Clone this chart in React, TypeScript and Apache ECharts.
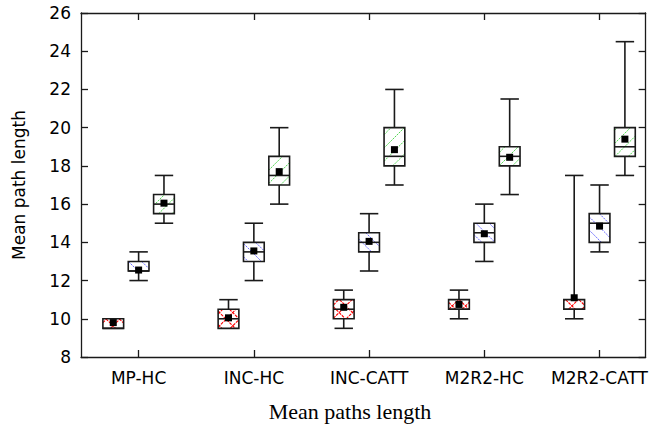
import React, { useEffect, useRef } from "react";
import * as echarts from "echarts";

// Categories (x groups)
const categories = ["MP-HC", "INC-HC", "INC-CATT", "M2R2-HC", "M2R2-CATT"];

// Box statistics per group: [min, q1, median, q3, max]
const redStats = [
  [9.5, 9.5, 9.5, 10, 10],
  [9.5, 9.5, 10, 10.5, 11],
  [9.5, 10, 10.5, 11, 11.5],
  [10, 10.5, 10.5, 11, 11.5],
  [10, 10.5, 10.5, 11, 17.5],
];
const redMeans = [9.8, 10.05, 10.6, 10.75, 11.1];

const blueStats = [
  [12, 12.5, 12.5, 13, 13.5],
  [12, 13, 13.5, 14, 15],
  [12.5, 13.5, 14, 14.5, 15.5],
  [13, 14, 14.5, 15, 16],
  [13.5, 14, 15, 15.5, 17],
];
const blueMeans = [12.55, 13.55, 14.05, 14.45, 14.85];

const greenStats = [
  [15, 15.5, 16, 16.5, 17.5],
  [16, 17, 17.5, 18.5, 20],
  [17, 18, 18.5, 20, 22],
  [16.5, 18, 18.5, 19, 21.5],
  [17.5, 18.5, 19, 20, 24.5],
];
const greenMeans = [16.05, 17.7, 18.85, 18.45, 19.4];

const yMin = 8;
const yMax = 26;
const yStep = 2;

const SANS = "DejaVu Sans";
const SERIF = "Liberation Serif";
const INK = "#1a1a1a";

type Pattern = { dirs: number[]; stroke: string; dash: number[] | null; width: number };

function clipLines(x0: number, y0: number, x1: number, y1: number, pat: Pattern) {
  const P = 13.3;
  const out: any[] = [];
  for (const d of pat.dirs) {
    if (d > 0) {
      // "/" lines: x + y = c
      const cStart = Math.floor((x0 + y0) / P) * P;
      for (let c = cStart; c <= x1 + y1 + P; c += P) {
        const xa = Math.max(x0, c - y1);
        const xb = Math.min(x1, c - y0);
        if (xb - xa > 0.3) {
          out.push({
            type: "line",
            shape: { x1: xa, y1: c - xa, x2: xb, y2: c - xb },
            style: { stroke: pat.stroke, lineWidth: pat.width, lineDash: pat.dash || undefined },
            silent: true,
          });
        }
      }
    } else {
      // "\" lines: x - y = c
      const cStart = Math.floor((x0 - y1) / P) * P;
      for (let c = cStart; c <= x1 - y0 + P; c += P) {
        const xa = Math.max(x0, y0 + c);
        const xb = Math.min(x1, y1 + c);
        if (xb - xa > 0.3) {
          out.push({
            type: "line",
            shape: { x1: xa, y1: xa - c, x2: xb, y2: xb - c },
            style: { stroke: pat.stroke, lineWidth: pat.width, lineDash: pat.dash || undefined },
            silent: true,
          });
        }
      }
    }
  }
  return out;
}

function makeSeries(stats: number[][], means: number[], offset: number, pat: Pattern) {
  const data = stats.map((s, i) => [i + 1, ...s, means[i]]);
  return {
    type: "custom",
    data,
    encode: { x: 0, y: [1, 2, 3, 4, 5, 6] },
    clip: false,
    renderItem: (params: any, api: any) => {
      const gx = api.value(0) + offset;
      const vMin = api.value(1);
      const vQ1 = api.value(2);
      const vMed = api.value(3);
      const vQ3 = api.value(4);
      const vMax = api.value(5);
      const vMean = api.value(6);
      const cx = api.coord([gx, vMin])[0];
      const pMin = api.coord([gx, vMin])[1];
      const pQ1 = api.coord([gx, vQ1])[1];
      const pMed = api.coord([gx, vMed])[1];
      const pQ3 = api.coord([gx, vQ3])[1];
      const pMax = api.coord([gx, vMax])[1];
      const pMean = api.coord([gx, vMean])[1];
      const unit = api.size([1, 0])[0];
      const hw = (0.18 * unit) / 2;
      const cw = (0.16 * unit) / 2;
      const lineStyle = { stroke: INK, lineWidth: 1.6 };
      const children: any[] = [];
      children.push(...clipLines(cx - hw, pQ3, cx + hw, pQ1, pat));
      children.push({
        type: "rect",
        shape: { x: cx - hw, y: pQ3, width: 2 * hw, height: pQ1 - pQ3 },
        style: { fill: "none", ...lineStyle },
      });
      children.push({ type: "line", shape: { x1: cx - hw, y1: pMed, x2: cx + hw, y2: pMed }, style: lineStyle });
      if (pMax < pQ3 - 0.5) {
        children.push({ type: "line", shape: { x1: cx, y1: pQ3, x2: cx, y2: pMax }, style: lineStyle });
        children.push({ type: "line", shape: { x1: cx - cw, y1: pMax, x2: cx + cw, y2: pMax }, style: lineStyle });
      }
      if (pMin > pQ1 + 0.5) {
        children.push({ type: "line", shape: { x1: cx, y1: pQ1, x2: cx, y2: pMin }, style: lineStyle });
        children.push({ type: "line", shape: { x1: cx - cw, y1: pMin, x2: cx + cw, y2: pMin }, style: lineStyle });
      }
      children.push({
        type: "rect",
        shape: { x: cx - 3.5, y: pMean - 3.5, width: 7, height: 7 },
        style: { fill: "#000" },
      });
      return { type: "group", children };
    },
  };
}

export default function App() {
  const ref = useRef<HTMLDivElement>(null);
  useEffect(() => {
    if (!ref.current) return;
    const chart = echarts.init(ref.current, undefined, { renderer: "svg" });
    const ticks = categories.map((_, i) => i + 1);
    const axisLine = { show: true, lineStyle: { color: INK, width: 1.3 } };
    const xBase = {
      type: "value" as const,
      min: 0.5,
      max: 5.4,
      splitLine: { show: false },
      axisLine,
    };
    const yBase = {
      type: "value" as const,
      min: yMin,
      max: yMax,
      interval: yStep,
      splitLine: { show: false },
      axisLine,
      axisTick: { show: true, inside: true, length: 7, lineStyle: { color: INK, width: 1.3 } },
    };
    chart.setOption({
      animation: false,
      backgroundColor: "#fff",
      grid: { left: 81, right: 2, top: 13, bottom: 73, containLabel: false },
      xAxis: [
        {
          ...xBase,
          position: "bottom",
          axisTick: {
            show: true,
            inside: true,
            length: 7,
            customValues: ticks,
            lineStyle: { color: INK, width: 1.3 },
          },
          axisLabel: {
            show: true,
            customValues: ticks,
            margin: 12,
            fontFamily: SANS,
            fontSize: 17,
            color: "#000",
            formatter: (v: number) => categories[Math.round(v) - 1] || "",
          },
        },
        {
          ...xBase,
          position: "top",
          axisTick: {
            show: true,
            inside: true,
            length: 7,
            customValues: ticks,
            lineStyle: { color: INK, width: 1.3 },
          },
          axisLabel: { show: false },
        },
      ],
      yAxis: [
        {
          ...yBase,
          position: "left",
          axisLabel: { show: true, margin: 10, fontFamily: SANS, fontSize: 17, color: "#000" },
        },
        {
          ...yBase,
          position: "right",
          axisLabel: { show: false },
        },
      ],
      series: [
        makeSeries(redStats, redMeans, -0.22, { dirs: [1, -1], stroke: "#ff0000", dash: [3, 1], width: 1.1 }),
        makeSeries(blueStats, blueMeans, 0, { dirs: [-1], stroke: "#6a6aff", dash: [2, 1], width: 1 }),
        makeSeries(greenStats, greenMeans, 0.22, { dirs: [1], stroke: "#4fd84f", dash: [2, 1], width: 1 }),
      ],
      graphic: [
        {
          type: "text",
          x: 18.5,
          y: 185,
          rotation: Math.PI / 2,
          style: {
            text: "Mean path length",
            fontFamily: SANS,
            fontSize: 17,
            fill: "#000",
            align: "center",
            verticalAlign: "middle",
          },
        },
        {
          type: "text",
          x: 350,
          y: 411,
          style: {
            text: "Mean paths length",
            fontFamily: SERIF,
            fontSize: 22,
            fill: "#000",
            align: "center",
            verticalAlign: "middle",
          },
        },
      ],
    });
    return () => chart.dispose();
  }, []);
  return <div ref={ref} style={{ width: 651, height: 430, position: "absolute", left: 0, top: 0 }} />;
}
